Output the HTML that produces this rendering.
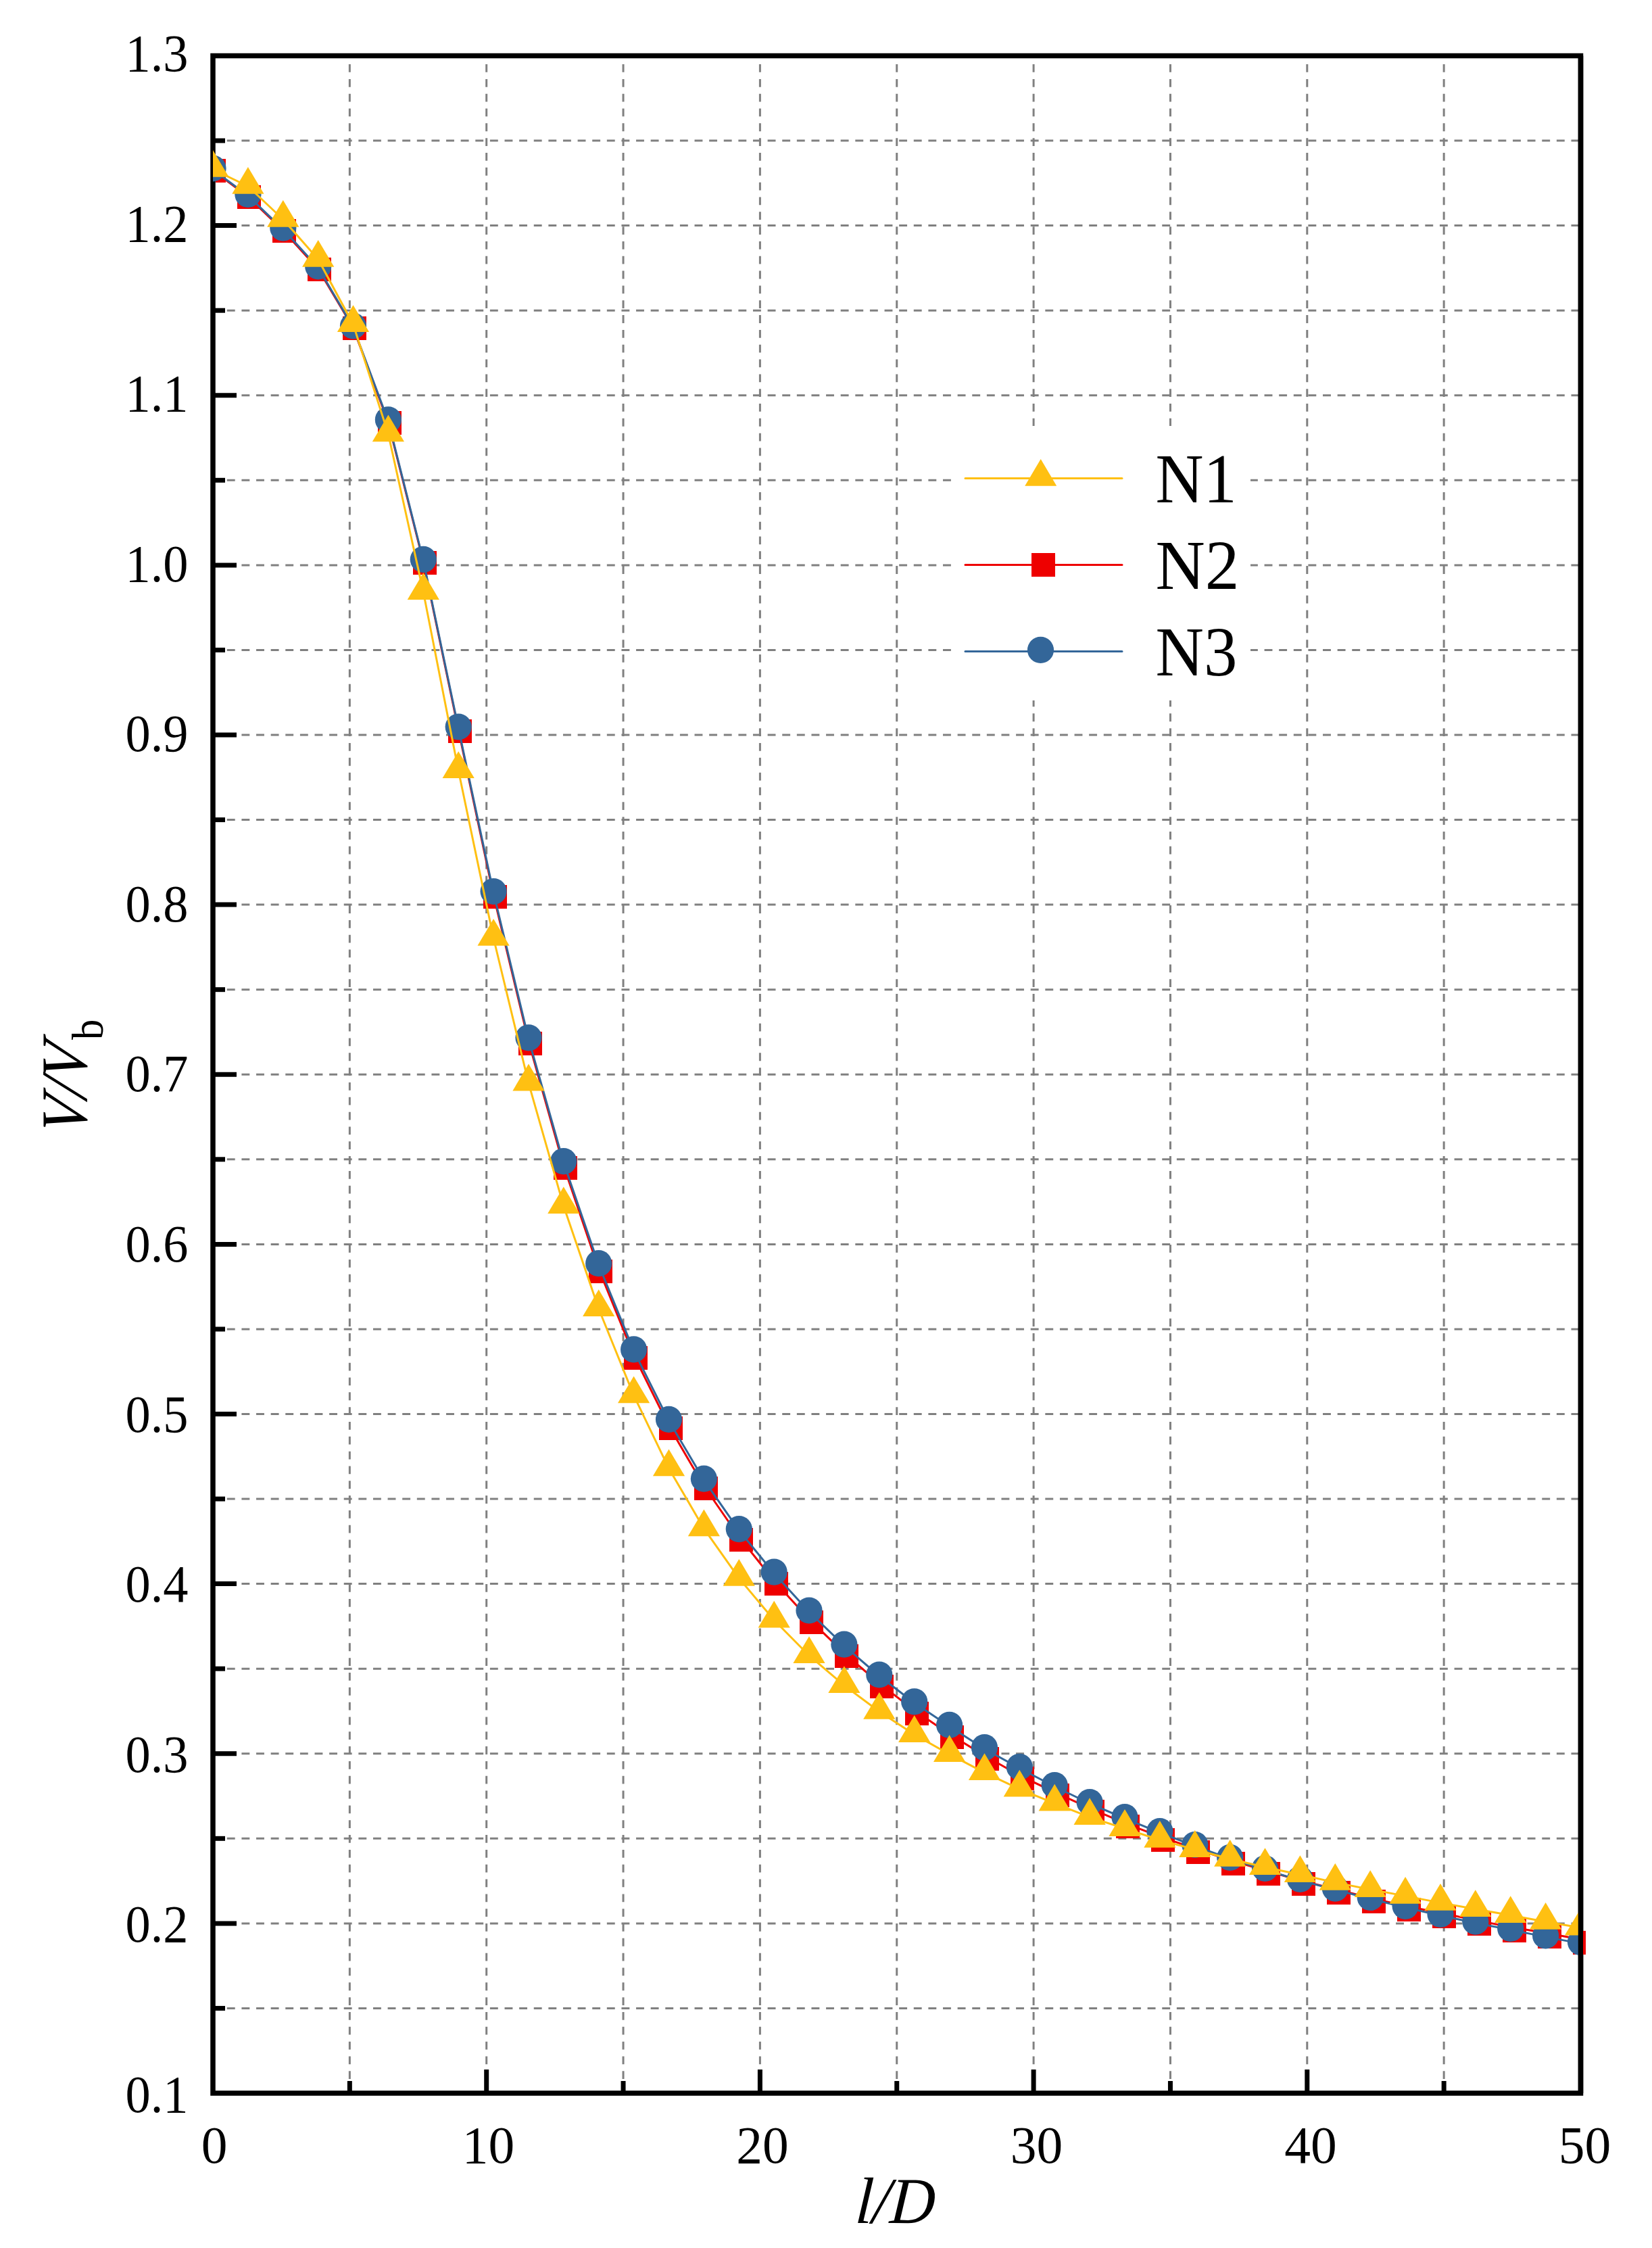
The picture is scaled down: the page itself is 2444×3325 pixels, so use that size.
<!DOCTYPE html>
<html lang="en">
<head>
<meta charset="utf-8">
<title>V/Vb versus l/D</title>
<style>
html,body{margin:0;padding:0;background:#fff;}
body{width:2444px;height:3325px;overflow:hidden;}
svg{display:block;}
text{font-family:"Liberation Serif",serif;fill:#000;}
.tk{font-size:77.5px;}
.ax{font-size:97px;font-style:italic;}
.lg{font-size:103px;}
</style>
</head>
<body>
<svg width="2444" height="3325" viewBox="0 0 2444 3325">
<rect x="0" y="0" width="2444" height="3325" fill="#ffffff"/>
<defs>
<clipPath id="cp"><rect x="315.0" y="82.5" width="2027.0" height="3013.5"/></clipPath>
<clipPath id="cps"><rect x="319.0" y="82.5" width="2027.0" height="3013.5"/></clipPath>
</defs>

<g stroke="#808080" stroke-width="3" fill="none">
<line x1="517.35" y1="3096.9" x2="517.35" y2="82.5" stroke-dasharray="11.8 10.025"/>
<line x1="719.70" y1="3096.9" x2="719.70" y2="82.5" stroke-dasharray="11.8 10.025"/>
<line x1="922.05" y1="3096.9" x2="922.05" y2="82.5" stroke-dasharray="11.8 10.025"/>
<line x1="1124.40" y1="3096.9" x2="1124.40" y2="82.5" stroke-dasharray="11.8 10.025"/>
<line x1="1326.75" y1="3096.9" x2="1326.75" y2="82.5" stroke-dasharray="11.8 10.025"/>
<line x1="1529.10" y1="3096.9" x2="1529.10" y2="82.5" stroke-dasharray="11.8 10.025"/>
<line x1="1731.45" y1="3096.9" x2="1731.45" y2="82.5" stroke-dasharray="11.8 10.025"/>
<line x1="1933.80" y1="3096.9" x2="1933.80" y2="82.5" stroke-dasharray="11.8 10.025"/>
<line x1="2136.15" y1="3096.9" x2="2136.15" y2="82.5" stroke-dasharray="11.8 10.025"/>
<line x1="314.2" y1="2970.44" x2="2338.5" y2="2970.44" stroke-dasharray="11.9 9.716"/>
<line x1="314.2" y1="2844.88" x2="2338.5" y2="2844.88" stroke-dasharray="11.9 9.716"/>
<line x1="314.2" y1="2719.31" x2="2338.5" y2="2719.31" stroke-dasharray="11.9 9.716"/>
<line x1="314.2" y1="2593.75" x2="2338.5" y2="2593.75" stroke-dasharray="11.9 9.716"/>
<line x1="314.2" y1="2468.19" x2="2338.5" y2="2468.19" stroke-dasharray="11.9 9.716"/>
<line x1="314.2" y1="2342.62" x2="2338.5" y2="2342.62" stroke-dasharray="11.9 9.716"/>
<line x1="314.2" y1="2217.06" x2="2338.5" y2="2217.06" stroke-dasharray="11.9 9.716"/>
<line x1="314.2" y1="2091.50" x2="2338.5" y2="2091.50" stroke-dasharray="11.9 9.716"/>
<line x1="314.2" y1="1965.94" x2="2338.5" y2="1965.94" stroke-dasharray="11.9 9.716"/>
<line x1="314.2" y1="1840.38" x2="2338.5" y2="1840.38" stroke-dasharray="11.9 9.716"/>
<line x1="314.2" y1="1714.81" x2="2338.5" y2="1714.81" stroke-dasharray="11.9 9.716"/>
<line x1="314.2" y1="1589.25" x2="2338.5" y2="1589.25" stroke-dasharray="11.9 9.716"/>
<line x1="314.2" y1="1463.69" x2="2338.5" y2="1463.69" stroke-dasharray="11.9 9.716"/>
<line x1="314.2" y1="1338.12" x2="2338.5" y2="1338.12" stroke-dasharray="11.9 9.716"/>
<line x1="314.2" y1="1212.56" x2="2338.5" y2="1212.56" stroke-dasharray="11.9 9.716"/>
<line x1="314.2" y1="1087.00" x2="2338.5" y2="1087.00" stroke-dasharray="11.9 9.716"/>
<line x1="314.2" y1="961.44" x2="2338.5" y2="961.44" stroke-dasharray="11.9 9.716"/>
<line x1="314.2" y1="835.88" x2="2338.5" y2="835.88" stroke-dasharray="11.9 9.716"/>
<line x1="314.2" y1="710.31" x2="2338.5" y2="710.31" stroke-dasharray="11.9 9.716"/>
<line x1="314.2" y1="584.75" x2="2338.5" y2="584.75" stroke-dasharray="11.9 9.716"/>
<line x1="314.2" y1="459.19" x2="2338.5" y2="459.19" stroke-dasharray="11.9 9.716"/>
<line x1="314.2" y1="333.62" x2="2338.5" y2="333.62" stroke-dasharray="11.9 9.716"/>
<line x1="314.2" y1="208.06" x2="2338.5" y2="208.06" stroke-dasharray="11.9 9.716"/>
</g>
<rect x="1407" y="630" width="443" height="406" fill="#ffffff"/>
<g stroke="#000" stroke-width="7.5" fill="none" stroke-linecap="butt">
<rect x="315.0" y="82.5" width="2023.5" height="3013.5"/>
</g>
<g stroke="#000" stroke-width="7" fill="none">
<line x1="315.0" y1="2970.44" x2="333.0" y2="2970.44"/>
<line x1="315.0" y1="2844.88" x2="350.0" y2="2844.88"/>
<line x1="315.0" y1="2719.31" x2="333.0" y2="2719.31"/>
<line x1="315.0" y1="2593.75" x2="350.0" y2="2593.75"/>
<line x1="315.0" y1="2468.19" x2="333.0" y2="2468.19"/>
<line x1="315.0" y1="2342.62" x2="350.0" y2="2342.62"/>
<line x1="315.0" y1="2217.06" x2="333.0" y2="2217.06"/>
<line x1="315.0" y1="2091.50" x2="350.0" y2="2091.50"/>
<line x1="315.0" y1="1965.94" x2="333.0" y2="1965.94"/>
<line x1="315.0" y1="1840.38" x2="350.0" y2="1840.38"/>
<line x1="315.0" y1="1714.81" x2="333.0" y2="1714.81"/>
<line x1="315.0" y1="1589.25" x2="350.0" y2="1589.25"/>
<line x1="315.0" y1="1463.69" x2="333.0" y2="1463.69"/>
<line x1="315.0" y1="1338.12" x2="350.0" y2="1338.12"/>
<line x1="315.0" y1="1212.56" x2="333.0" y2="1212.56"/>
<line x1="315.0" y1="1087.00" x2="350.0" y2="1087.00"/>
<line x1="315.0" y1="961.44" x2="333.0" y2="961.44"/>
<line x1="315.0" y1="835.88" x2="350.0" y2="835.88"/>
<line x1="315.0" y1="710.31" x2="333.0" y2="710.31"/>
<line x1="315.0" y1="584.75" x2="350.0" y2="584.75"/>
<line x1="315.0" y1="459.19" x2="333.0" y2="459.19"/>
<line x1="315.0" y1="333.62" x2="350.0" y2="333.62"/>
<line x1="315.0" y1="208.06" x2="333.0" y2="208.06"/>
<line x1="517.35" y1="3096.0" x2="517.35" y2="3078.0"/>
<line x1="719.70" y1="3096.0" x2="719.70" y2="3061.0"/>
<line x1="922.05" y1="3096.0" x2="922.05" y2="3078.0"/>
<line x1="1124.40" y1="3096.0" x2="1124.40" y2="3061.0"/>
<line x1="1326.75" y1="3096.0" x2="1326.75" y2="3078.0"/>
<line x1="1529.10" y1="3096.0" x2="1529.10" y2="3061.0"/>
<line x1="1731.45" y1="3096.0" x2="1731.45" y2="3078.0"/>
<line x1="1933.80" y1="3096.0" x2="1933.80" y2="3061.0"/>
<line x1="2136.15" y1="3096.0" x2="2136.15" y2="3078.0"/>
</g>
<g clip-path="url(#cp)"><polyline fill="none" stroke-width="3" stroke-linejoin="round" stroke="#EE0000" points="315.0,252.2 366.9,290.9 418.8,340.9 470.7,397.9 522.5,484.8 574.4,624.9 626.3,831.1 678.2,1079.6 730.1,1324.2 782.0,1540.6 833.8,1724.3 885.7,1876.9 937.6,2004.5 989.5,2109.1 1041.4,2198.0 1093.3,2273.0 1145.2,2338.3 1197.0,2394.9 1248.9,2444.9 1300.8,2489.9 1352.7,2529.8 1404.6,2564.9 1456.5,2596.7 1508.3,2626.0 1560.2,2650.9 1612.1,2674.3 1664.0,2696.6 1715.9,2716.3 1767.8,2734.2 1819.7,2751.4 1871.5,2766.5 1923.4,2781.3 1975.3,2794.1 2027.2,2807.3 2079.1,2819.3 2131.0,2829.3 2182.8,2840.1 2234.7,2850.2 2286.6,2859.1 2338.5,2868.4"/></g>
<g clip-path="url(#cps)" fill="#EE0000" shape-rendering="crispEdges">
<rect x="298.5" y="235.0" width="35.0" height="35.0"/>
<rect x="350.5" y="273.8" width="35.0" height="35.0"/>
<rect x="402.5" y="323.9" width="35.0" height="35.0"/>
<rect x="454.5" y="381.0" width="35.0" height="35.0"/>
<rect x="506.5" y="468.0" width="35.0" height="35.0"/>
<rect x="558.5" y="608.4" width="35.0" height="35.0"/>
<rect x="610.5" y="814.9" width="35.0" height="35.0"/>
<rect x="662.5" y="1063.9" width="35.0" height="35.0"/>
<rect x="714.5" y="1308.9" width="35.0" height="35.0"/>
<rect x="766.5" y="1525.7" width="35.0" height="35.0"/>
<rect x="818.5" y="1709.8" width="35.0" height="35.0"/>
<rect x="870.5" y="1862.6" width="35.0" height="35.0"/>
<rect x="922.5" y="1990.5" width="35.0" height="35.0"/>
<rect x="974.5" y="2095.3" width="35.0" height="35.0"/>
<rect x="1026.5" y="2184.3" width="35.0" height="35.0"/>
<rect x="1078.5" y="2259.5" width="35.0" height="35.0"/>
<rect x="1130.5" y="2324.9" width="35.0" height="35.0"/>
<rect x="1182.5" y="2381.6" width="35.0" height="35.0"/>
<rect x="1234.5" y="2431.7" width="35.0" height="35.0"/>
<rect x="1286.5" y="2476.7" width="35.0" height="35.0"/>
<rect x="1338.5" y="2516.7" width="35.0" height="35.0"/>
<rect x="1390.5" y="2551.9" width="35.0" height="35.0"/>
<rect x="1442.5" y="2583.7" width="35.0" height="35.0"/>
<rect x="1494.5" y="2613.1" width="35.0" height="35.0"/>
<rect x="1546.5" y="2638.0" width="35.0" height="35.0"/>
<rect x="1598.5" y="2661.5" width="35.0" height="35.0"/>
<rect x="1650.5" y="2683.8" width="35.0" height="35.0"/>
<rect x="1702.5" y="2703.5" width="35.0" height="35.0"/>
<rect x="1754.5" y="2721.5" width="35.0" height="35.0"/>
<rect x="1806.5" y="2738.7" width="35.0" height="35.0"/>
<rect x="1858.5" y="2753.8" width="35.0" height="35.0"/>
<rect x="1910.5" y="2768.7" width="35.0" height="35.0"/>
<rect x="1962.5" y="2781.5" width="35.0" height="35.0"/>
<rect x="2014.5" y="2794.7" width="35.0" height="35.0"/>
<rect x="2066.5" y="2806.7" width="35.0" height="35.0"/>
<rect x="2118.5" y="2816.8" width="35.0" height="35.0"/>
<rect x="2170.5" y="2827.6" width="35.0" height="35.0"/>
<rect x="2222.5" y="2837.7" width="35.0" height="35.0"/>
<rect x="2274.5" y="2846.6" width="35.0" height="35.0"/>
<rect x="2326.5" y="2855.9" width="35.0" height="35.0"/>
</g>
<g clip-path="url(#cp)" fill="#336699"><polyline fill="none" stroke-width="3" stroke-linejoin="round" stroke="#336699" points="315.0,251.0 366.9,289.5 418.8,339.1 470.7,395.9 522.5,484.0 574.4,622.8 626.3,829.4 678.2,1077.0 730.1,1320.5 782.0,1536.8 833.8,1719.6 885.7,1870.7 937.6,1997.9 989.5,2101.4 1041.4,2189.2 1093.3,2263.6 1145.2,2327.2 1197.0,2384.0 1248.9,2434.2 1300.8,2479.0 1352.7,2518.8 1404.6,2553.4 1456.5,2586.7 1508.3,2615.4 1560.2,2642.5 1612.1,2667.5 1664.0,2689.7 1715.9,2710.6 1767.8,2730.5 1819.7,2749.4 1871.5,2765.5 1923.4,2781.4 1975.3,2795.1 2027.2,2808.5 2079.1,2821.3 2131.0,2833.3 2182.8,2844.2 2234.7,2854.4 2286.6,2864.9 2338.5,2874.6"/>
<circle cx="315.0" cy="249.0" r="19.6"/>
<circle cx="366.9" cy="287.5" r="19.6"/>
<circle cx="418.8" cy="337.1" r="19.6"/>
<circle cx="470.7" cy="393.9" r="19.6"/>
<circle cx="522.5" cy="482.0" r="19.6"/>
<circle cx="574.4" cy="620.8" r="19.6"/>
<circle cx="626.3" cy="827.4" r="19.6"/>
<circle cx="678.2" cy="1075.0" r="19.6"/>
<circle cx="730.1" cy="1318.5" r="19.6"/>
<circle cx="782.0" cy="1534.8" r="19.6"/>
<circle cx="833.8" cy="1717.6" r="19.6"/>
<circle cx="885.7" cy="1868.7" r="19.6"/>
<circle cx="937.6" cy="1995.9" r="19.6"/>
<circle cx="989.5" cy="2099.4" r="19.6"/>
<circle cx="1041.4" cy="2187.2" r="19.6"/>
<circle cx="1093.3" cy="2261.6" r="19.6"/>
<circle cx="1145.2" cy="2325.2" r="19.6"/>
<circle cx="1197.0" cy="2382.0" r="19.6"/>
<circle cx="1248.9" cy="2432.2" r="19.6"/>
<circle cx="1300.8" cy="2477.0" r="19.6"/>
<circle cx="1352.7" cy="2516.8" r="19.6"/>
<circle cx="1404.6" cy="2551.4" r="19.6"/>
<circle cx="1456.5" cy="2584.7" r="19.6"/>
<circle cx="1508.3" cy="2613.4" r="19.6"/>
<circle cx="1560.2" cy="2640.5" r="19.6"/>
<circle cx="1612.1" cy="2665.5" r="19.6"/>
<circle cx="1664.0" cy="2687.7" r="19.6"/>
<circle cx="1715.9" cy="2708.6" r="19.6"/>
<circle cx="1767.8" cy="2728.5" r="19.6"/>
<circle cx="1819.7" cy="2747.4" r="19.6"/>
<circle cx="1871.5" cy="2763.5" r="19.6"/>
<circle cx="1923.4" cy="2779.4" r="19.6"/>
<circle cx="1975.3" cy="2793.1" r="19.6"/>
<circle cx="2027.2" cy="2806.5" r="19.6"/>
<circle cx="2079.1" cy="2819.3" r="19.6"/>
<circle cx="2131.0" cy="2831.3" r="19.6"/>
<circle cx="2182.8" cy="2842.2" r="19.6"/>
<circle cx="2234.7" cy="2852.4" r="19.6"/>
<circle cx="2286.6" cy="2862.9" r="19.6"/>
<circle cx="2338.5" cy="2872.6" r="19.6"/>
</g>
<g clip-path="url(#cp)" fill="#FFC012"><polyline fill="none" stroke-width="3" stroke-linejoin="round" stroke="#FFC012" points="315.0,250.5 366.9,275.5 418.8,324.5 470.7,383.5 522.5,479.7 574.4,641.9 626.3,875.7 678.2,1139.8 730.1,1387.5 782.0,1602.1 833.8,1783.7 885.7,1935.8 937.6,2063.9 989.5,2171.9 1041.4,2260.9 1093.3,2334.4 1145.2,2396.2 1197.0,2448.7 1248.9,2492.8 1300.8,2531.5 1352.7,2565.6 1404.6,2594.7 1456.5,2621.8 1508.3,2646.2 1560.2,2667.3 1612.1,2687.7 1664.0,2704.6 1715.9,2721.5 1767.8,2735.6 1819.7,2749.5 1871.5,2761.7 1923.4,2772.8 1975.3,2784.4 2027.2,2794.7 2079.1,2804.4 2131.0,2814.4 2182.8,2823.7 2234.7,2832.8 2286.6,2842.5 2338.5,2851.3"/>
<polygon points="315.0,222.0 338.6,261.8 291.4,261.8"/>
<polygon points="366.9,247.0 390.5,286.8 343.3,286.8"/>
<polygon points="418.8,296.0 442.4,335.8 395.2,335.8"/>
<polygon points="470.7,355.0 494.3,394.8 447.1,394.8"/>
<polygon points="522.5,451.2 546.1,491.0 498.9,491.0"/>
<polygon points="574.4,613.4 598.0,653.2 550.8,653.2"/>
<polygon points="626.3,847.2 649.9,887.0 602.7,887.0"/>
<polygon points="678.2,1111.3 701.8,1151.1 654.6,1151.1"/>
<polygon points="730.1,1359.0 753.7,1398.8 706.5,1398.8"/>
<polygon points="782.0,1573.6 805.6,1613.4 758.4,1613.4"/>
<polygon points="833.8,1755.2 857.4,1795.0 810.2,1795.0"/>
<polygon points="885.7,1907.3 909.3,1947.1 862.1,1947.1"/>
<polygon points="937.6,2035.4 961.2,2075.2 914.0,2075.2"/>
<polygon points="989.5,2143.4 1013.1,2183.2 965.9,2183.2"/>
<polygon points="1041.4,2232.4 1065.0,2272.2 1017.8,2272.2"/>
<polygon points="1093.3,2305.9 1116.9,2345.7 1069.7,2345.7"/>
<polygon points="1145.2,2367.7 1168.8,2407.5 1121.6,2407.5"/>
<polygon points="1197.0,2420.2 1220.6,2460.0 1173.4,2460.0"/>
<polygon points="1248.9,2464.3 1272.5,2504.1 1225.3,2504.1"/>
<polygon points="1300.8,2503.0 1324.4,2542.8 1277.2,2542.8"/>
<polygon points="1352.7,2537.1 1376.3,2576.9 1329.1,2576.9"/>
<polygon points="1404.6,2566.2 1428.2,2606.0 1381.0,2606.0"/>
<polygon points="1456.5,2593.3 1480.1,2633.1 1432.9,2633.1"/>
<polygon points="1508.3,2617.7 1531.9,2657.5 1484.7,2657.5"/>
<polygon points="1560.2,2638.8 1583.8,2678.6 1536.6,2678.6"/>
<polygon points="1612.1,2659.2 1635.7,2699.0 1588.5,2699.0"/>
<polygon points="1664.0,2676.1 1687.6,2715.9 1640.4,2715.9"/>
<polygon points="1715.9,2693.0 1739.5,2732.8 1692.3,2732.8"/>
<polygon points="1767.8,2707.1 1791.4,2746.9 1744.2,2746.9"/>
<polygon points="1819.7,2721.0 1843.3,2760.8 1796.1,2760.8"/>
<polygon points="1871.5,2733.2 1895.1,2773.0 1847.9,2773.0"/>
<polygon points="1923.4,2744.3 1947.0,2784.1 1899.8,2784.1"/>
<polygon points="1975.3,2755.9 1998.9,2795.7 1951.7,2795.7"/>
<polygon points="2027.2,2766.2 2050.8,2806.0 2003.6,2806.0"/>
<polygon points="2079.1,2775.9 2102.7,2815.7 2055.5,2815.7"/>
<polygon points="2131.0,2785.9 2154.6,2825.7 2107.4,2825.7"/>
<polygon points="2182.8,2795.2 2206.4,2835.0 2159.2,2835.0"/>
<polygon points="2234.7,2804.3 2258.3,2844.1 2211.1,2844.1"/>
<polygon points="2286.6,2814.0 2310.2,2853.8 2263.0,2853.8"/>
<polygon points="2338.5,2822.8 2362.1,2862.6 2314.9,2862.6"/>
</g>
<g stroke="#000" stroke-width="7.5" fill="none" stroke-linecap="butt">
<line x1="2338.5" y1="82.5" x2="2338.5" y2="3096.0"/>
</g>
<rect x="2342.0" y="2855.9" width="4" height="35.0" fill="#EE0000"/>
<g stroke-width="3" stroke-linecap="round" fill="none">
<line x1="1428" y1="707.5" x2="1660" y2="707.5" stroke="#FFC012"/>
<line x1="1428" y1="835.5" x2="1660" y2="835.5" stroke="#EE0000"/>
<line x1="1428" y1="963.5" x2="1660" y2="963.5" stroke="#336699"/>
</g>
<polygon fill="#FFC012" points="1539.7,679 1563.2,718.8 1516.2,718.8"/>
<rect fill="#EE0000" x="1526" y="818" width="35" height="35"/>
<circle fill="#336699" cx="1539.5" cy="961.4" r="19.6"/>
<text class="lg" transform="translate(1709.5,743) scale(0.955,1)">N1</text>
<text class="lg" transform="translate(1709.5,871) scale(0.985,1)">N2</text>
<text class="lg" transform="translate(1709.5,999) scale(0.96,1)">N3</text>
<text class="tk" transform="translate(278.5,3123.6) scale(0.96,1)" text-anchor="end">0.1</text>
<text class="tk" transform="translate(278.5,2872.1) scale(0.96,1)" text-anchor="end">0.2</text>
<text class="tk" transform="translate(278.5,2620.5) scale(0.96,1)" text-anchor="end">0.3</text>
<text class="tk" transform="translate(278.5,2369.0) scale(0.96,1)" text-anchor="end">0.4</text>
<text class="tk" transform="translate(278.5,2117.5) scale(0.96,1)" text-anchor="end">0.5</text>
<text class="tk" transform="translate(278.5,1866.0) scale(0.96,1)" text-anchor="end">0.6</text>
<text class="tk" transform="translate(278.5,1614.4) scale(0.96,1)" text-anchor="end">0.7</text>
<text class="tk" transform="translate(278.5,1362.9) scale(0.96,1)" text-anchor="end">0.8</text>
<text class="tk" transform="translate(278.5,1111.4) scale(0.96,1)" text-anchor="end">0.9</text>
<text class="tk" transform="translate(278.5,859.9) scale(0.96,1)" text-anchor="end">1.0</text>
<text class="tk" transform="translate(278.5,608.4) scale(0.96,1)" text-anchor="end">1.1</text>
<text class="tk" transform="translate(278.5,356.8) scale(0.96,1)" text-anchor="end">1.2</text>
<text class="tk" transform="translate(278.5,105.3) scale(0.96,1)" text-anchor="end">1.3</text>
<text class="tk" x="317.0" y="3199" text-anchor="middle">0</text>
<text class="tk" x="722.5" y="3199" text-anchor="middle">10</text>
<text class="tk" x="1128.0" y="3199" text-anchor="middle">20</text>
<text class="tk" x="1533.5" y="3199" text-anchor="middle">30</text>
<text class="tk" x="1939.0" y="3199" text-anchor="middle">40</text>
<text class="tk" x="2344.5" y="3199" text-anchor="middle">50</text>
<text class="ax" transform="translate(1323,3288) scale(0.95,1) skewX(-4)" text-anchor="middle">l/D</text>
<g transform="translate(128,1589.5) rotate(-90)">
<text class="ax" transform="translate(-91,0) scale(0.92,1) skewX(-9)">V/V</text>
<text style="font-size:66px" transform="translate(51.5,24) scale(0.92,1)">b</text>
</g>
</svg>
</body>
</html>
